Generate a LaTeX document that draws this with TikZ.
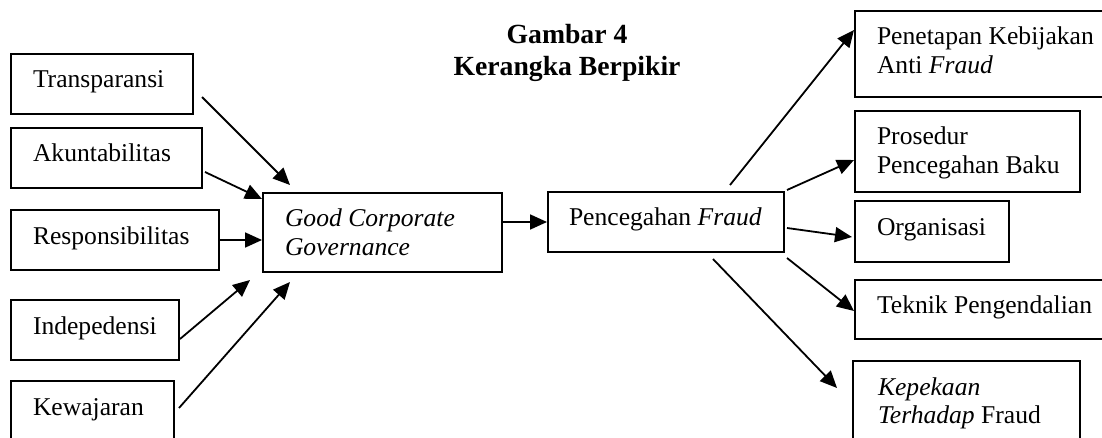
\documentclass[tikz,border=0pt]{standalone}
\usepackage{fontspec}
\setmainfont{Liberation Serif}
\usetikzlibrary{arrows.meta,calc}
\newcommand\bodyfont{\fontsize{12.8pt}{14.25pt}\selectfont}
\newcommand\titlefont{\fontsize{13.85pt}{16pt}\selectfont\bfseries}
\newcommand\bt[3][11pt]{\parbox[t]{#2}{\leftskip=#1\relax\parindent=0pt\relax #3}}
\tikzset{
  bx/.style={draw, line width=1pt, anchor=north west, inner sep=0pt,
    font=\bodyfont, text height=17pt, text depth=#1},
  bx/.default=13pt,
  arr/.style={-{Triangle[length=8.5pt,width=7.5pt]}, line width=0.9pt},
}
\begin{document}
\begin{tikzpicture}[x=0.5pt,y=-0.5pt]
\useasboundingbox (0,0) rectangle (1102,438);
% title
\node[anchor=north, inner sep=0pt, text height=10pt, font=\titlefont] (title) at (567,23)
  {\parbox[t]{150pt}{\centering Gambar 4\\ Kerangka Berpikir}};
% left boxes
\node[bx] (trans) at (10,53) {\bt{91pt}{Transparansi}};
\node[bx] (akun) at (10,127) {\bt{95.5pt}{Akuntabilitas}};
\node[bx] (resp) at (10,209) {\bt{104pt}{Responsibilitas}};
\node[bx] (inde) at (10,299) {\bt{84pt}{Indepedensi}};
\node[bx=18pt] (kewa) at (10,380) {\bt{81.5pt}{Kewajaran}};
% middle boxes
\node[bx=22.5pt] (gcg) at (262,192) {\bt{119.5pt}{\itshape Good Corporate\\ Governance}};
\node[bx] (pence) at (547,191) {\bt[10.5pt]{118pt}{Pencegahan \textit{Fraud}}};
% right boxes
\node[bx=26pt] (pen) at (854,10) {\bt{133pt}{Penetapan Kebijakan\\ Anti \textit{Fraud}}};
\node[bx=23.5pt] (pros) at (854,110) {\bt{112.5pt}{Prosedur\\ Pencegahan Baku}};
\node[bx=13.5pt] (org) at (854,200) {\bt{77pt}{Organisasi}};
\node[bx=12.5pt] (tek) at (854,279) {\bt{133pt}{Teknik Pengendalian}};
\node[bx=28pt] (kep) at (852,360) {\bt[12.5pt]{113.5pt}{\textit{Kepekaan}\\ \textit{Terhadap} Fraud}};
% arrows into GCG
\draw[arr] ($(trans.east)+(8,13)$) -- ($(gcg.north west)+(28,-7)$);
\draw[arr] ($(akun.east)+(2,14)$) -- ($(gcg.north west)+(0,7)$);
\draw[arr] (resp.east) -- (resp.east -| gcg.west);
\draw[arr] ($(inde.east)+(0,9)$) -- ($(gcg.south west)+(-12,7)$);
\draw[arr] ($(kewa.north east)+(4,28)$) -- ($(gcg.south west)+(28,9)$);
% GCG to Pencegahan
\draw[arr] (gcg.east |- pence.west) -- (pence.west);
% arrows out of Pencegahan
\draw[arr] ($(pence.north west)+(183,-6)$) -- ($(pen.north west)+(0,20)$);
\draw[arr] ($(pence.north east)+(2,-1)$) -- ($(pros.north west)+(0,50)$);
\draw[arr] ($(pence.east)+(2,6)$) -- ($(org.west)+(-2,5.5)$);
\draw[arr] ($(pence.south east)+(2,5)$) -- ($(tek.west)+(0,1.5)$);
\draw[arr] ($(pence.south west)+(166,6)$) -- ($(kep.north west)+(-15,28)$);
\end{tikzpicture}
\end{document}
